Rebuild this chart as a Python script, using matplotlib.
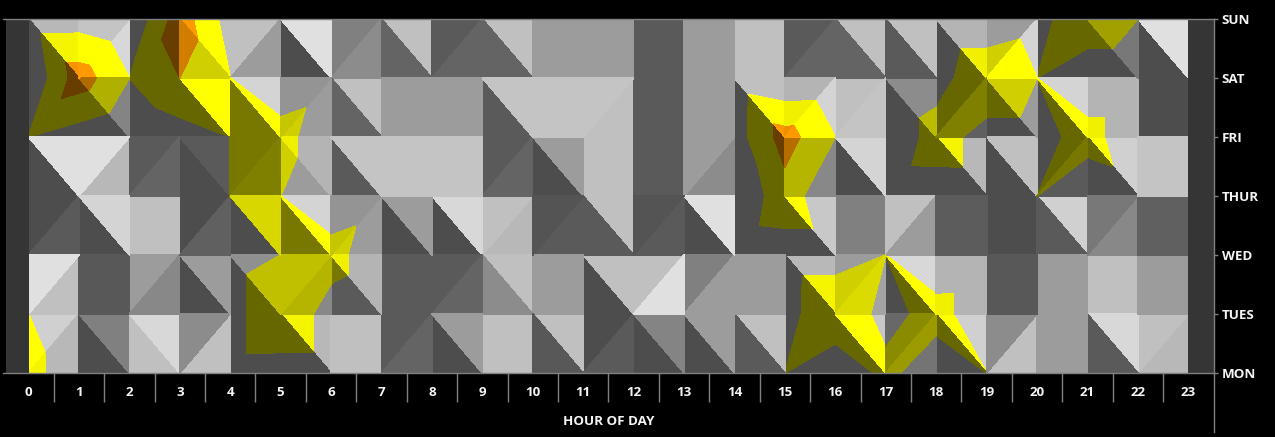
import numpy as np
import matplotlib
matplotlib.use("Agg")
import matplotlib.pyplot as plt
from matplotlib.tri import Triangulation

hours = list(range(24))
days = ["MON", "TUES", "WED", "THUR", "FRI", "SAT", "SUN"]

# surface values at the grid nodes, top row is SUN
z_sun = [.5, .52, .05, 2.55, .52, .2, .2, .2, .2, .2, .2, .2, .2, .2, .2, .2, .2, .2, .5, .5, .74, 1.53, 1.0, .2]
z_sat = [.04, 2.52, 1.0, 2.0, 1.005, .03, .48, .2, .2, .2, .2, .2, .2, .2, .45, .04, .1, .41, .72, 1.5, 1.0, .47, .47, .2]
z_fri = [1.0, .48, -.05, .5, 1.005, 1.5, 0, .2, .2, .2, .2, .2, .2, .2, .5, 2.43, 1.0, .41, 1.28, .75, .74, 1.26, .5, .2]
z_thu = [.2, .2, .2, .3, 1.001, 1.001, 0, .48, .2, .2, .2, .2, .2, .2, .1, 1.6, 0, .7, .72, .73, 1.0, .5, .74, .2]
z_wed = [.2, .2, .2, .2, .53, 1.001, 1.5, 0, .2, .2, .2, .2, .2, .2, .4, .5, .5, 1.0, .15, .2, .2, .2, .2, .2]
z_tue = [1.0, 0, .2, .2, .53, 1.95, .48, 0, .2, .2, .2, .2, .2, .2, .2, .55, 1.93, .6, 1.42, .2, .2, .2, .2, .2]
z_mon = [1.5, 0, .2, .2, .53, .5, .48, .2, .2, .2, .2, .2, .2, .2, .2, 1.0, .07, 1.3, .25, 1.0, .2, .2, .2, .2]

# cell diagonals, one char per hour (s = top left to bottom right, b = bottom left to top right)
diag_sun = "sbbsb" + "sbsbs" + "sssss" + "bsssb" + "bss"
diag_sat = "bsbss" + "bssss" + "sbsss" + "bbsbs" + "sbs"
diag_fri = "sbbsb" + "sssbb" + "sssbs" + "bsbss" + "bss"
diag_thu = "bssbs" + "sbssb" + "bsbsb" + "ssbss" + "sbs"
diag_wed = "bsbss" + "bssbs" + "ssbbs" + "sbsbs" + "sss"
diag_tue = "bssbb" + "ssbss" + "sbsss" + "bsbsb" + "ssb"

# grey of the left and right triangle in every cell
left_sun = [0x4d, 0xc4, 0x4d, 0x9c, 0xc0, 0x4d, 0x80, 0x64, 0x5a, 0x64, 0x9c, 0x9c, 0x5a, 0x9c, 0xc0, 0x5a, 0x64, 0x5a, 0x4d, 0x9c, 0x4d, 0x4d, 0x4d]
right_sun = [0xb8, 0xd8, 0x4d, 0xc0, 0x9c, 0xe0, 0x8c, 0xc0, 0x64, 0xc0, 0x9c, 0x9c, 0x5a, 0x9c, 0xc0, 0x64, 0xc0, 0xc0, 0xb4, 0xd4, 0x4d, 0x78, 0xe0]
left_sat = [0x4d, 0x4d, 0x4d, 0x4d, 0x5a, 0x94, 0x64, 0x9c, 0x9c, 0x5a, 0xc4, 0xc4, 0x5a, 0x9c, 0x4d, 0xb4, 0xc0, 0x4d, 0x4d, 0x4d, 0x4d, 0xb4, 0x4d]
right_sat = [0x4d, 0x84, 0x4d, 0xc0, 0xd4, 0x9c, 0xc0, 0x9c, 0x9c, 0xc4, 0xc4, 0xc0, 0x5a, 0x9c, 0xc0, 0xd4, 0xc4, 0x8c, 0x60, 0x9c, 0xd4, 0xb4, 0x4d]
left_fri = [0x4d, 0xe0, 0x5a, 0x4d, 0x5a, 0x9c, 0x5a, 0xc4, 0xc4, 0x5a, 0x4d, 0xc0, 0x5a, 0x9c, 0x4d, 0x88, 0x4d, 0x4d, 0x4d, 0x4d, 0x4d, 0x4d, 0xc4]
right_fri = [0xe0, 0xb8, 0x64, 0x5a, 0x60, 0xb4, 0xc4, 0xc4, 0xc4, 0x64, 0x9c, 0xc0, 0x5a, 0x8c, 0x4d, 0x88, 0xd4, 0x4d, 0xb8, 0xc0, 0x5a, 0xd0, 0xc4]
left_thu = [0x4d, 0x4d, 0xc0, 0x4d, 0x4d, 0x5a, 0x94, 0x4d, 0x4d, 0xc0, 0x54, 0x5a, 0x54, 0x4d, 0x4d, 0x4d, 0x80, 0xc0, 0x5c, 0x4d, 0x5a, 0x78, 0x60]
right_thu = [0x5a, 0xd4, 0xc0, 0x60, 0xa2, 0xd4, 0x9c, 0x9c, 0xd8, 0xb8, 0x5a, 0xc0, 0x5a, 0xe0, 0x4d, 0xc8, 0x80, 0x9c, 0x5c, 0x4d, 0xd0, 0x88, 0x60]
left_wed = [0xe0, 0x58, 0x9c, 0x4d, 0x4d, 0x90, 0x5a, 0x5a, 0x5a, 0x8c, 0x9c, 0x4d, 0xc0, 0x80, 0x9c, 0x4d, 0x9c, 0x4d, 0xb4, 0x58, 0x9c, 0xc0, 0x9c]
right_wed = [0xc0, 0x58, 0x88, 0x9c, 0x90, 0x88, 0xb4, 0x5a, 0x64, 0xc0, 0x9c, 0xc0, 0xe0, 0x9c, 0x9c, 0xb8, 0xa4, 0xd8, 0xb4, 0x58, 0x9c, 0xc0, 0x9c]
left_tue = [0xd0, 0x4d, 0xc0, 0x8c, 0x4d, 0x4d, 0xc0, 0x5a, 0x4d, 0xc0, 0x58, 0x4d, 0x4d, 0x4d, 0x5a, 0x4d, 0x4d, 0x68, 0x4d, 0x8c, 0x9c, 0x5a, 0xc0]
right_tue = [0xb8, 0x80, 0xd8, 0xc0, 0x4d, 0xb8, 0xc0, 0x64, 0x9c, 0xc0, 0xc0, 0x5a, 0x84, 0x9c, 0xc0, 0x4d, 0xc8, 0x74, 0xd0, 0xc0, 0x9c, 0xd8, 0xb8]

# contour bands: rest, yellow, orange
band_levels = [-1, 1, 2, 3]
band_tints = [(1, 1, 1), (1, 1, 0), (1, .6, 0)]
BG = "black"
LINE = "#808080"
TXT = "#f4f4f4"

plt.rcParams["font.family"] = ["Open Sans", "DejaVu Sans"]
plt.rcParams["font.weight"] = "bold"

# row lists run from MON up to SUN, same as the y axis
z = np.array([z_mon, z_tue, z_wed, z_thu, z_fri, z_sat, z_sun])
diags = [diag_tue, diag_wed, diag_thu, diag_fri, diag_sat, diag_sun]
lefts = [left_tue, left_wed, left_thu, left_fri, left_sat, left_sun]
rights = [right_tue, right_wed, right_thu, right_fri, right_sat, right_sun]

xx, yy = np.meshgrid(hours, range(len(days)))
x = xx.ravel().astype(float)
y = yy.ravel().astype(float)
vals = z.ravel()


def node(h, d):
    return d * len(hours) + h


# sort triangles by the grey they get
groups = {}
for d in range(len(diags)):
    for h in range(len(hours) - 1):
        ll, lr = node(h, d), node(h + 1, d)
        ul, ur = node(h, d + 1), node(h + 1, d + 1)
        if diags[d][h] == "s":
            tri_l, tri_r = [ul, ll, lr], [ul, lr, ur]
        else:
            tri_l, tri_r = [ul, ll, ur], [ll, lr, ur]
        groups.setdefault(lefts[d][h], []).append(tri_l)
        groups.setdefault(rights[d][h], []).append(tri_r)

fig = plt.figure(figsize=(12.75, 4.37), dpi=100, facecolor=BG)
ax = fig.add_axes([3.3 / 1275, (437 - 373) / 437, (1213.5 - 3.3) / 1275, 354 / 437], facecolor=BG)

for grey, tris in groups.items():
    s = grey / 255
    lit = min(1, s * 4 / 3)
    colors = [(s, s, s)] + [(lit * t[0], lit * t[1], lit * t[2]) for t in band_tints[1:]]
    tri = Triangulation(x, y, triangles=np.array(tris))
    cs = ax.tricontourf(tri, vals, levels=band_levels, colors=colors)
    cs.set_edgecolor("face")
    cs.set_linewidth(0.3)

# dark end strips
ax.axvspan(-0.45, 0, color="#353535", lw=0)
ax.axvspan(23, 23.5, color="#353535", lw=0)

ax.set_xlim(-0.5, 23.5)
ax.set_ylim(0, 6)
ax.set_xticks(hours)
ax.set_xticklabels(hours, color=TXT, fontsize=9.6)
ax.set_xticks(np.arange(0.5, 23), minor=True)
ax.tick_params(axis="x", which="major", length=0, pad=9)
ax.tick_params(axis="x", which="minor", length=21, width=1, color=LINE)
ax.set_yticks(range(len(days)))
ax.set_yticklabels(days, color=TXT, fontsize=9.6)
ax.yaxis.tick_right()
ax.tick_params(axis="y", length=3, width=1, color=LINE, pad=3)
ax.set_xlabel("HOUR OF DAY", color=TXT, fontsize=9.6, fontweight="bold", labelpad=6)

ax.spines["left"].set_visible(False)
for side in ["top", "bottom"]:
    ax.spines[side].set_color(LINE)
    ax.spines[side].set_linewidth(1)
ax.spines["right"].set_visible(False)
ax.axvline(23.5, ymin=-0.167, ymax=1, color=LINE, lw=1, clip_on=False)

fig.savefig("out.png", dpi=100, facecolor=BG)
